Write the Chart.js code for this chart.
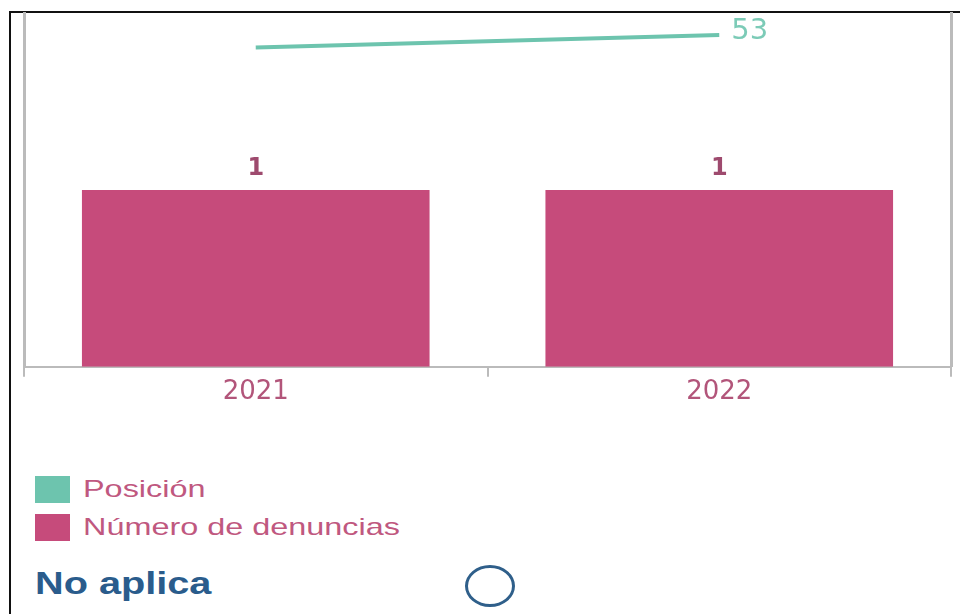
<!DOCTYPE html>
<html>
<head>
<meta charset="utf-8">
<script src="https://cdn.jsdelivr.net/npm/chart.js@4"></script>
<style>
  body { margin: 0; background: #fff; font-family: "Liberation Sans", Arial, sans-serif; }
  #frame { position: absolute; left: 9px; top: 11px; width: 960px; height: 620px;
           border-left: 2px solid #111; border-top: 2px solid #111; }
  #wrap { position: absolute; left: 0; top: 0; width: 960px; height: 408px; }
  #legend { position: absolute; left: 35px; top: 470px; }
  .item { display: flex; align-items: center; height: 38px; }
  .box { width: 35px; height: 27px; margin-right: 13px; }
  .item span { display: inline-block; font-size: 24px; color: #c0587f;
               transform: scaleX(1.35); transform-origin: left center; }
  #na { position: absolute; left: 35px; top: 566px; font-size: 31px; font-weight: bold; color: #2a5c8c;
        transform: scaleX(1.28); transform-origin: left center; }
  #circle { position: absolute; left: 465px; top: 565px; width: 44px; height: 36px;
            border: 3px solid #2f5f8a; border-radius: 50%; }
</style>
</head>
<body>
<div id="frame"></div>
<div id="wrap"><canvas id="chart"></canvas></div>
<div id="legend"></div>
<div id="na">No aplica</div>
<div id="circle"></div>
<script>
const years = ["2021", "2022"];
const denuncias = [1, 1];
const posicion = [51, 53];

const barColor = "#c64b7b";
const lineColor = "#6dc4ae";
const fontFamily = "'DejaVu Sans', 'Liberation Sans', Arial, sans-serif";

const valueLabels = {
  id: "valueLabels",
  afterDatasetsDraw(chart) {
    const ctx = chart.ctx;
    ctx.save();
    // bar values above each bar
    const bars = chart.getDatasetMeta(1);
    ctx.font = "bold 24px " + fontFamily;
    ctx.fillStyle = "#9e4a6e";
    ctx.textAlign = "center";
    ctx.textBaseline = "bottom";
    bars.data.forEach((bar, i) => {
      ctx.fillText(String(denuncias[i]), bar.x, bar.y - 9);
    });
    // last point of the line, label on the right
    const line = chart.getDatasetMeta(0);
    const last = line.data[line.data.length - 1];
    ctx.font = "29px " + fontFamily;
    ctx.fillStyle = "#7ccbb7";
    ctx.textAlign = "left";
    ctx.textBaseline = "middle";
    ctx.fillText(String(posicion[posicion.length - 1]), last.x + 12, last.y - 3);
    ctx.restore();
  },
};

const chart = new Chart(document.getElementById("chart"), {
  type: "bar",
  data: {
    labels: years,
    datasets: [
      {
        type: "line",
        label: "Posición",
        data: posicion,
        yAxisID: "y2",
        borderColor: lineColor,
        backgroundColor: lineColor,
        borderWidth: 4,
        pointRadius: 0,
        tension: 0,
      },
      {
        label: "Número de denuncias",
        data: denuncias,
        yAxisID: "y",
        backgroundColor: barColor,
        barPercentage: 0.75,
        categoryPercentage: 1,
      },
    ],
  },
  options: {
    responsive: true,
    maintainAspectRatio: false,
    animation: false,
    layout: { padding: { left: 24, right: 9, top: 13, bottom: 0 } },
    plugins: { legend: { display: false }, tooltip: { enabled: false } },
    scales: {
      x: {
        offset: true,
        grid: { offset: true, drawOnChartArea: false, color: "#bbb", tickLength: 10, lineWidth: 2 },
        border: { color: "#bbb", width: 2 },
        ticks: { color: "#b2557a", font: { size: 26, family: fontFamily }, padding: 0 },
      },
      y: {
        position: "left",
        min: 0,
        max: 2,
        ticks: { display: false },
        grid: { display: false, drawTicks: false },
        border: { color: "#bbb", width: 3 },
      },
      y2: {
        position: "right",
        min: 0,
        max: 56.5,
        ticks: { display: false },
        grid: { display: false, drawTicks: false },
        border: { color: "#bbb", width: 3 },
      },
    },
  },
  plugins: [valueLabels],
});

const legendEl = document.getElementById("legend");
chart.data.datasets.forEach((ds) => {
  const item = document.createElement("div");
  item.className = "item";
  item.innerHTML = `<div class="box" style="background:${ds.backgroundColor}"></div><span>${ds.label}</span>`;
  legendEl.appendChild(item);
});
</script>
</body>
</html>
